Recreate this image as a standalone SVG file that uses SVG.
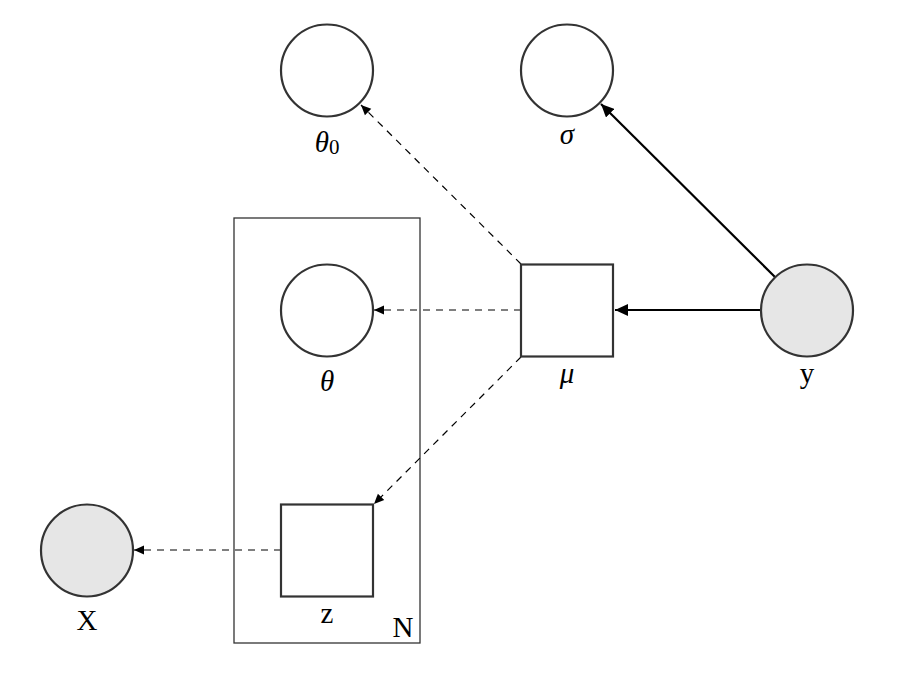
<svg xmlns="http://www.w3.org/2000/svg" width="915" height="693" viewBox="0 0 915 693">
<style>
.node{fill:#fff;stroke:#333;stroke-width:2.2}
.obs{fill:#e6e6e6;stroke:#333;stroke-width:2.2}
.plate{fill:none;stroke:#333;stroke-width:1.3}
.lbl{font-family:"Liberation Serif","Times New Roman",serif;font-size:29px;fill:#000;text-anchor:middle}
.greek{font-style:italic}
.solid{stroke:#000;stroke-width:2.2;fill:none}
.dash{stroke:#000;stroke-width:1.2;stroke-dasharray:7,6;fill:none}
</style>
<defs>
<marker id="ah" markerWidth="14" markerHeight="12" refX="13" refY="6" orient="auto" markerUnits="userSpaceOnUse">
<path d="M0,0 L13,6 L0,12 Z" fill="#000"/>
</marker>
<marker id="ahs" markerWidth="10" markerHeight="10" refX="10" refY="5" orient="auto" markerUnits="userSpaceOnUse">
<path d="M0,0.5 L10,5 L0,9.5 Z" fill="#000"/>
</marker>
</defs>
<g id="plate-N">
<rect class="plate" x="234" y="218" width="186" height="425"/>
<text class="lbl" x="403" y="637" font-size="31">N</text>
</g>
<g id="connectors">
<line class="solid" x1="775" y1="277" x2="601" y2="104" marker-end="url(#ah)"/>
<line class="solid" x1="761" y1="310" x2="615" y2="310" marker-end="url(#ah)"/>
<line class="dash" x1="521" y1="264" x2="361" y2="105" marker-end="url(#ahs)"/>
<line class="dash" x1="521" y1="310" x2="374" y2="310" marker-end="url(#ahs)"/>
<line class="dash" x1="521" y1="357" x2="374" y2="504" marker-end="url(#ahs)"/>
<line class="dash" x1="281" y1="550" x2="134" y2="550" marker-end="url(#ahs)"/>
</g>
<g id="theta0">
<circle class="node" cx="327" cy="70.5" r="46"/>
<text class="lbl" x="327" y="152"><tspan class="greek">θ</tspan><tspan font-size="21" dy="2">0</tspan></text>
</g>
<g id="sigma">
<circle class="node" cx="567" cy="70.5" r="46"/>
<text class="lbl greek" x="567" y="144">σ</text>
</g>
<g id="mu">
<rect class="node" x="521" y="264.5" width="92" height="92"/>
<text class="lbl greek" x="567" y="383">μ</text>
</g>
<g id="y">
<circle class="obs" cx="807" cy="310.5" r="46"/>
<text class="lbl" x="807" y="383">y</text>
</g>
<g id="theta">
<circle class="node" cx="327" cy="310.5" r="46"/>
<text class="lbl greek" x="327" y="391">θ</text>
</g>
<g id="z">
<rect class="node" x="281" y="504.5" width="92" height="92"/>
<text class="lbl" x="327" y="623">z</text>
</g>
<g id="X">
<circle class="obs" cx="87" cy="550.5" r="46"/>
<text class="lbl" x="87" y="630">X</text>
</g>
</svg>
